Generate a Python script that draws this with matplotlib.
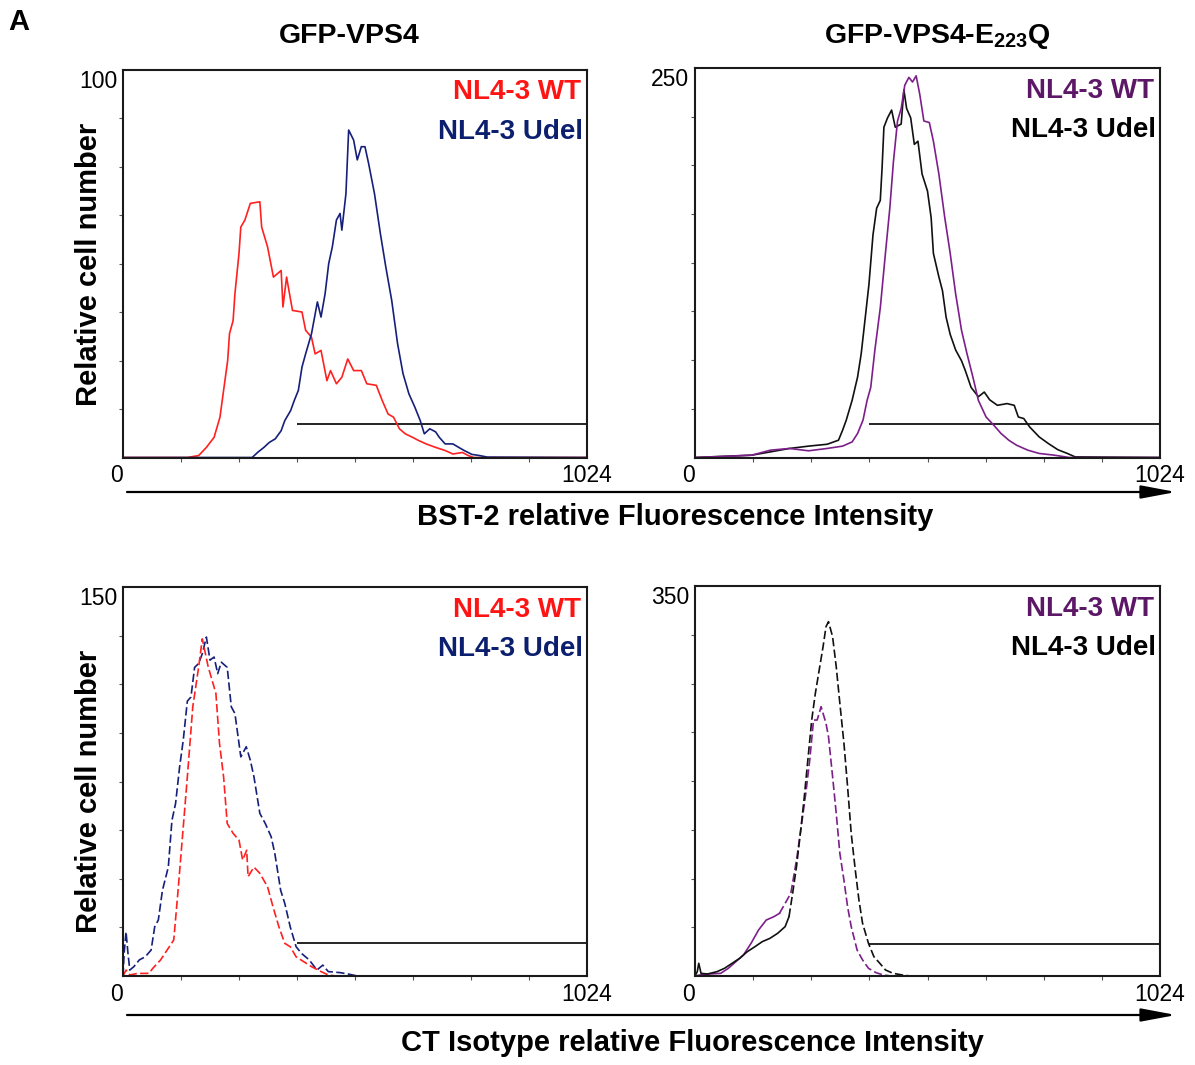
import numpy as np
import matplotlib
matplotlib.use('Agg')
import matplotlib.pyplot as plt

plt.rcParams['font.family'] = ['Liberation Sans', 'DejaVu Sans']
plt.rcParams['mathtext.fontset'] = 'custom'
plt.rcParams['mathtext.bf'] = 'Liberation Sans:bold'
plt.rcParams['mathtext.rm'] = 'Liberation Sans'

# flow cytometry histograms, channel 0..1024
channel_max = 1024
gate_start = 384

# top left: GFP-VPS4, BST-2 staining (solid)
bst_vps4_wt_x = [0, 142, 167, 184, 201, 214, 222, 231, 235, 243, 247, 256, 260, 269, 281, 302, 306, 319,
                 332, 349, 353, 361, 374, 395, 403, 416, 424, 437, 450, 458, 471, 483, 496, 509, 526, 538,
                 559, 572, 585, 597, 610, 623, 639, 652, 669, 690, 711, 728, 749, 762, 774, 1024]
bst_vps4_wt_y = [0, 0, 0.5, 2.6, 5.2, 10.4, 17.3, 25.0, 31.9, 35.3, 42.2, 52.6, 59.4, 61.2, 65.5, 65.9, 59.4,
                 54.3, 46.5, 48.2, 38.8, 46.5, 37.9, 37.5, 32.8, 31.0, 26.7, 27.6, 19.8, 22.4, 19.0, 20.7,
                 25.4, 22.4, 22.4, 19.0, 18.6, 14.7, 11.2, 10.4, 7.4, 6.1, 5.2, 4.4, 3.5, 2.6, 1.8, 0.9, 1.3,
                 0.5, 0, 0]
bst_vps4_udel_x = [0, 285, 298, 311, 323, 336, 349, 357, 370, 378, 387, 395, 403, 416, 429, 437, 446, 454,
                   462, 471, 479, 483, 492, 498, 509, 517, 526, 534, 542, 555, 568, 580, 593, 606, 618, 631,
                   644, 656, 665, 677, 690, 698, 711, 728, 741, 753, 770, 787, 804, 1024]
bst_vps4_udel_y = [0, 0, 1.4, 2.6, 3.9, 4.8, 6.9, 9.5, 12.1, 14.7, 17.3, 23.3, 26.7, 31.9, 40.1, 36.2, 42.2,
                   50.0, 54.3, 61.2, 62.9, 58.6, 68.0, 84.4, 81.8, 76.7, 80.1, 80.1, 75.8, 68.0, 57.7, 49.1,
                   40.5, 29.3, 21.6, 16.4, 13.0, 9.5, 6.1, 7.4, 6.6, 5.2, 3.5, 3.5, 2.6, 1.8, 0.8, 0.5, 0.1, 0]

# top right: GFP-VPS4-E223Q, BST-2 staining (solid)
bst_e223q_wt_x = [0, 83, 125, 166, 208, 250, 291, 325, 346, 358, 370, 379, 387, 396, 408, 420, 429, 437, 446,
                  454, 462, 471, 479, 487, 495, 504, 516, 525, 537, 550, 562, 574, 587, 599, 612, 624, 641,
                  658, 674, 691, 708, 733, 758, 791, 824, 1024]
bst_e223q_wt_y = [0, 0.9, 1.5, 4.7, 5.8, 4.3, 5.8, 7.3, 10, 15.4, 24, 36.7, 45, 68.7, 96, 133, 160, 190, 216,
                  224, 239, 244, 241, 245, 233, 216, 215, 203, 182, 154, 131, 105, 81.5, 66.6, 51.6, 36.7,
                  26, 20.7, 15.4, 11.1, 7.9, 4.7, 2.6, 1.5, 0, 0]
bst_e223q_udel_x = [0, 125, 166, 208, 250, 291, 316, 325, 333, 346, 358, 366, 375, 383, 392, 400, 408, 412,
                    416, 424, 433, 441, 454, 460, 466, 475, 483, 491, 500, 512, 520, 525, 537, 545, 553, 562,
                    574, 587, 595, 608, 624, 637, 649, 666, 687, 703, 712, 724, 737, 758, 778, 799, 820, 837,
                    1024]
bst_e223q_udel_y = [0, 1.5, 3.6, 5.8, 7.3, 8.5, 11.1, 17.5, 23.9, 36.7, 51.6, 66.6, 90, 111, 143, 160, 165,
                    186, 212, 218, 223, 212, 214, 236, 224, 218, 201, 203, 182, 171, 154, 131, 116, 107, 90,
                    79, 69, 62, 56, 45, 39, 42, 37, 33.5, 34.6, 33.5, 26, 25, 19.6, 13.2, 9, 5, 2.6, 0.4, 0]

# bottom left: GFP-VPS4, isotype control (dashed)
iso_vps4_wt_x = [0, 6.7, 15, 32, 57, 66, 83, 100, 112, 121, 133, 142, 154, 167, 175, 188, 205, 213, 222, 230,
                 243, 256, 264, 273, 276, 289, 302, 319, 331, 344, 357, 369, 382, 399, 416, 437, 453, 470, 1024]
iso_vps4_wt_y = [0, 2.3, 0.4, 1, 1, 3, 6.2, 10.7, 13.9, 31.9, 57.5, 76.8, 103.8, 119.2, 130, 119.2, 109, 89.6,
                 76.8, 58.8, 55, 52.4, 44.7, 48.5, 38.3, 42, 39.6, 34.4, 26.7, 19, 12.6, 11.3, 7.4, 5.5, 3.6,
                 1.7, 0.4, 0, 0]
iso_vps4_udel_x = [0, 2.5, 6.7, 11, 15, 24, 36, 49, 62, 70, 78, 87, 100, 108, 116, 125, 133, 142, 150, 158,
                   167, 175, 184, 192, 201, 209, 217, 230, 239, 247, 260, 272, 281, 289, 302, 314, 327, 335,
                   348, 357, 369, 382, 394, 411, 428, 441, 453, 479, 496, 517, 1024]
iso_vps4_udel_y = [0, 8.7, 17, 8.7, 2.3, 3.6, 6.2, 7.4, 10, 19, 21.6, 33, 42, 60, 66.5, 80.7, 91, 106, 107.6,
                   119, 120.5, 124.3, 130.7, 121.8, 123, 116.6, 121, 119, 103.8, 101.2, 84.5, 88.4, 83.2,
                   76.8, 62.7, 58.8, 53.7, 47.3, 33, 28, 19, 11.3, 8.7, 6.2, 2.3, 4.2, 1.7, 1.3, 0.8, 0, 0]

# bottom right: GFP-VPS4-E223Q, isotype control (dashed)
iso_e223q_wt_x = [0, 10.8, 31.7, 56.7, 73.4, 90, 106.7, 123.4, 140, 156.8, 173.5, 186, 198.5, 211, 223.5,
                  236, 244, 252.7, 261, 269, 277.7, 282, 288.5, 294, 303, 311, 319, 328, 336, 344, 357, 369,
                  382, 398.6, 415, 432, 1024]
iso_e223q_wt_y = [0, 0.9, 1.8, 2.4, 6.9, 12.9, 18.8, 29.3, 41.3, 50.2, 53.2, 56.2, 65.2, 74.2, 104, 140, 164,
                  193.8, 229.7, 229.7, 241.7, 235.7, 226.7, 214.7, 178.9, 146, 110, 86, 62.2, 44.3, 23.3,
                  14.4, 6.9, 3, 0.9, 0, 0]
iso_e223q_udel_x = [0, 5, 8.3, 13.3, 27.5, 48.4, 65, 81.7, 98.4, 115, 132, 148, 165, 182, 198.5, 207, 215,
                    223.5, 232, 240, 248.5, 257, 265, 273.5, 282, 288.5, 294, 303, 311, 319, 328, 336, 344,
                    353, 361, 369, 382, 394, 407, 419.5, 436, 457, 474, 1024]
iso_e223q_udel_y = [0, 3.9, 11.4, 2.4, 1.8, 3.9, 6.9, 11.4, 15.9, 21.8, 26.3, 30.8, 33.8, 38.3, 44.3, 53.2,
                    74.2, 98.1, 128, 158, 193.8, 229.7, 253.6, 274.6, 295.5, 313.5, 318, 304.5, 277.6, 244.7,
                    208.8, 169.9, 128, 95, 68.2, 47.3, 29.3, 17.3, 11.4, 5.4, 2.4, 0.9, 0, 0]

y_max = [100, 250, 150, 350]
gate_level = [8.7, 21.8, 12.6, 28.7]
legend_labels = ['NL4-3 WT', 'NL4-3 Udel']

W, H = 1195, 1065
fig = plt.figure(figsize=(W / 100, H / 100), dpi=100)


def px_box(left, right, top, bottom):
    return [left / W, 1 - bottom / H, (right - left) / W, (bottom - top) / H]


def panel(box, ymax, gate, curves, text_colors):
    ax = fig.add_axes(box)
    ax.set_xlim(0, channel_max)
    ax.set_ylim(0, ymax)
    for s in ax.spines.values():
        s.set_linewidth(1.5)
        s.set_color('#1a1a1a')
    ax.set_xticks([0, channel_max])
    ax.set_xticklabels(['0', str(channel_max)])
    ax.set_yticks([ymax])
    ax.set_yticklabels([str(ymax)])
    ax.set_xticks(np.arange(128, channel_max, 128), minor=True)
    ax.set_yticks(np.arange(1, 8) * ymax / 8, minor=True)
    ax.tick_params(which='major', length=0, labelsize=16.5)
    ax.tick_params(axis='x', which='major', pad=5)
    ax.tick_params(axis='y', which='major', pad=4)
    ax.tick_params(which='minor', direction='out', length=3, width=0.8, color='#555555')
    ax.get_xticklabels()[0].set_horizontalalignment('right')
    ax.get_yticklabels()[0].set_verticalalignment('top')

    ax.hlines(gate, gate_start, channel_max, color='black', lw=1.2, zorder=1)
    for x, y, c, ls, n_solid in curves:
        # low shoulder of some isotype traces reads as solid in the export
        if n_solid:
            ax.plot(x[:n_solid + 1], y[:n_solid + 1], color=c, lw=1.2, ls='-', zorder=2)
            ax.plot(x[n_solid:], y[n_solid:], color=c, lw=1.2, ls=ls, zorder=2)
        else:
            ax.plot(x, y, color=c, lw=1.2, ls=ls, zorder=2)

    ax.text(0.988, 0.942, legend_labels[0], transform=ax.transAxes, ha='right', va='center',
            fontsize=20, fontweight='bold', color=text_colors[0])
    ax.text(0.992, 0.840, legend_labels[1], transform=ax.transAxes, ha='right', va='center',
            fontsize=20, fontweight='bold', color=text_colors[1])
    return ax


red, navy, purple = '#ff2020', '#16207a', '#7d1f8a'
red_txt, navy_txt, purple_txt = '#ff1414', '#0c1f6e', '#5c1766'
dash = (0, (5, 2))

panel(px_box(123, 587, 69.5, 457.5), y_max[0], gate_level[0],
      [(bst_vps4_wt_x, bst_vps4_wt_y, red, '-', 0),
       (bst_vps4_udel_x, bst_vps4_udel_y, navy, '-', 0)],
      [red_txt, navy_txt])
panel(px_box(695, 1160, 68, 457.5), y_max[1], gate_level[1],
      [(bst_e223q_udel_x, bst_e223q_udel_y, '#111111', '-', 0),
       (bst_e223q_wt_x, bst_e223q_wt_y, purple, '-', 0)],
      [purple_txt, 'black'])
panel(px_box(123, 587, 587, 976), y_max[2], gate_level[2],
      [(iso_vps4_udel_x, iso_vps4_udel_y, navy, dash, 0),
       (iso_vps4_wt_x, iso_vps4_wt_y, red, dash, 0)],
      [red_txt, navy_txt])
panel(px_box(695, 1160, 586, 976), y_max[3], gate_level[3],
      [(iso_e223q_wt_x, iso_e223q_wt_y, purple, dash, 11),
       (iso_e223q_udel_x, iso_e223q_udel_y, '#111111', dash, 15)],
      [purple_txt, 'black'])

# overlay for arrows, in pixel units
ov = fig.add_axes([0, 0, 1, 1])
ov.set_xlim(0, W)
ov.set_ylim(H, 0)
ov.axis('off')
arrow = dict(arrowstyle='-|>,head_length=0.85,head_width=0.16', lw=1.6, color='black',
             mutation_scale=25, shrinkA=0, shrinkB=0)
ov.annotate('', xy=(1176, 492), xytext=(127, 492), arrowprops=arrow)
ov.annotate('', xy=(1176, 1015), xytext=(127, 1015), arrowprops=arrow)

fig.text(19 / W, 1 - 22 / H, 'A', fontsize=21, fontweight='bold', ha='center', va='center')
fig.text(349 / W, 1 - 43.5 / H, 'GFP-VPS4', fontsize=20.5, fontweight='bold', ha='center', va='baseline')
fig.text(937 / W, 1 - 43.5 / H, r'GFP-VPS4-E$_{\mathbf{223}}$Q', fontsize=20.5, fontweight='bold',
         ha='center', va='baseline')
fig.text(89 / W, 1 - 264 / H, 'Relative cell number', rotation=90, fontsize=21, fontweight='bold',
         ha='center', va='center')
fig.text(89 / W, 1 - 791 / H, 'Relative cell number', rotation=90, fontsize=21, fontweight='bold',
         ha='center', va='center')
fig.text(675 / W, 1 - 517 / H, 'BST-2 relative Fluorescence Intensity', fontsize=21, fontweight='bold',
         ha='center', va='center')
fig.text(692 / W, 1 - 1043 / H, 'CT Isotype relative Fluorescence Intensity', fontsize=21,
         fontweight='bold', ha='center', va='center')

fig.savefig('out.png', dpi=100)
